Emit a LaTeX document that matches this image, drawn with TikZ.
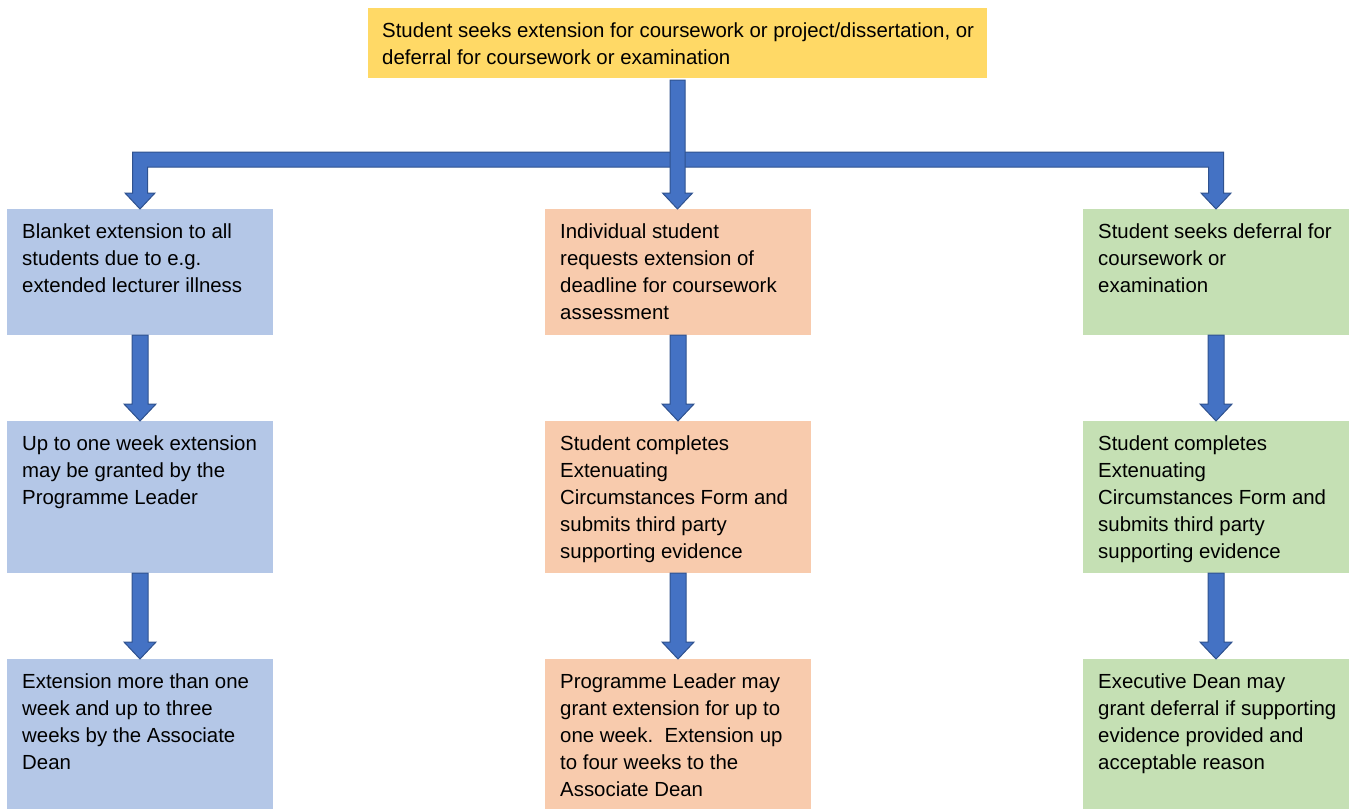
\documentclass[tikz,border=0pt]{standalone}
\usepackage{fontspec}
\setmainfont{Liberation Sans}
\usetikzlibrary{calc}
\definecolor{ayellow}{HTML}{FFD966}
\definecolor{ablue}{HTML}{B4C7E7}
\definecolor{aorange}{HTML}{F8CBAD}
\definecolor{agreen}{HTML}{C5E0B4}
\definecolor{arrfill}{HTML}{4472C4}
\definecolor{arrline}{HTML}{2F528F}
\newcommand{\varr}[2]{%
  \draw[barrow] let \p1=(#1.south), \p2=(#2.north) in
    (\x1-8pt,\y1) -- (\x1+8pt,\y1) -- (\x1+8pt,\y2+17pt) -- (\x1+16pt,\y2+17pt)
    -- (\x1,\y2) -- (\x1-16pt,\y2+17pt) -- (\x1-8pt,\y2+17pt) -- cycle;}
\begin{document}
\begin{tikzpicture}[x=1pt,y=-1pt,
  box/.style={rectangle, inner sep=0pt, outer sep=0pt, anchor=north west},
  colbox/.style={box, minimum width=266pt},
  txt/.style={anchor=north west, inner sep=0pt, align=left, font=\fontsize{20.4}{27}\selectfont},
  barrow/.style={fill=arrfill, draw=arrline, line width=1pt, line join=miter}]
\useasboundingbox (0,0) rectangle (1356,809);

% top box
\node[box, fill=ayellow, minimum width=619pt, minimum height=70pt] (top) at (368,8) {};
\node[txt] (ttop) at ($(top.north west)+(14,14.3)$) {Student seeks extension for coursework or project/dissertation, or\\deferral for coursework or examination};

% left column
\node[colbox, fill=ablue, minimum height=126pt] (l1) at (7,209) {};
\node[colbox, fill=ablue, minimum height=152pt] (l2) at (7,421) {};
\node[colbox, fill=ablue, minimum height=150pt] (l3) at (7,659) {};
% middle column
\node[colbox, fill=aorange, minimum height=126pt] (m1) at (545,209) {};
\node[colbox, fill=aorange, minimum height=152pt] (m2) at (545,421) {};
\node[colbox, fill=aorange, minimum height=150pt] (m3) at (545,659) {};
% right column
\node[colbox, fill=agreen, minimum height=126pt] (r1) at (1083,209) {};
\node[colbox, fill=agreen, minimum height=152pt] (r2) at (1083,421) {};
\node[colbox, fill=agreen, minimum height=150pt] (r3) at (1083,659) {};

\node[txt] (tl1) at ($(l1.north west)+(15,14.3)$) {Blanket extension to all\\students due to e.g.\\extended lecturer illness};
\node[txt] (tl2) at ($(l2.north west)+(15,14.3)$) {Up to one week extension\\may be granted by the\\Programme Leader};
\node[txt] (tl3) at ($(l3.north west)+(15,14.3)$) {Extension more than one\\week and up to three\\weeks by the Associate\\Dean};

\node[txt] (tm1) at ($(m1.north west)+(15,14.3)$) {Individual student\\requests extension of\\deadline for coursework\\assessment};
\node[txt] (tm2) at ($(m2.north west)+(15,14.3)$) {Student completes\\Extenuating\\Circumstances Form and\\submits third party\\supporting evidence};
\node[txt] (tm3) at ($(m3.north west)+(15,14.3)$) {Programme Leader may\\grant extension for up to\\one week.~~Extension up\\to four weeks to the\\Associate Dean};

\node[txt] (tr1) at ($(r1.north west)+(15,14.3)$) {Student seeks deferral for\\coursework or\\examination};
\node[txt] (tr2) at ($(r2.north west)+(15,14.3)$) {Student completes\\Extenuating\\Circumstances Form and\\submits third party\\supporting evidence};
\node[txt] (tr3) at ($(r3.north west)+(15,14.3)$) {Executive Dean may\\grant deferral if supporting\\evidence provided and\\acceptable reason};

% branching bar
\coordinate (bar) at (678,159.5);
\draw[barrow] let \p1=(bar), \p2=(l1.north), \p3=(r1.north) in
  (\x2-7.5pt,\y1+7.5pt) -- (\x3+7.5pt,\y1+7.5pt) -- (\x3+7.5pt,\y3+16pt)
  -- (\x3+15pt,\y3+16pt) -- (\x3,\y3) -- (\x3-15pt,\y3+16pt) -- (\x3-7.5pt,\y3+16pt)
  -- (\x3-7.5pt,\y1-7.5pt) -- (\x2+7.5pt,\y1-7.5pt) -- (\x2+7.5pt,\y2+16pt)
  -- (\x2+15pt,\y2+16pt) -- (\x2,\y2) -- (\x2-15pt,\y2+16pt) -- (\x2-7.5pt,\y2+16pt) -- cycle;
% central arrow
\draw[barrow] let \p1=(top.south), \p2=(m1.north) in
  (\x1-7.5pt,\y1-2pt) -- (\x1+7.5pt,\y1-2pt) -- (\x1+7.5pt,\y2+16pt) -- (\x1+15pt,\y2+16pt)
  -- (\x1,\y2) -- (\x1-15pt,\y2+16pt) -- (\x1-7.5pt,\y2+16pt) -- cycle;

% column arrows
\varr{l1}{l2}
\varr{l2}{l3}
\varr{m1}{m2}
\varr{m2}{m3}
\varr{r1}{r2}
\varr{r2}{r3}
\end{tikzpicture}
\end{document}
